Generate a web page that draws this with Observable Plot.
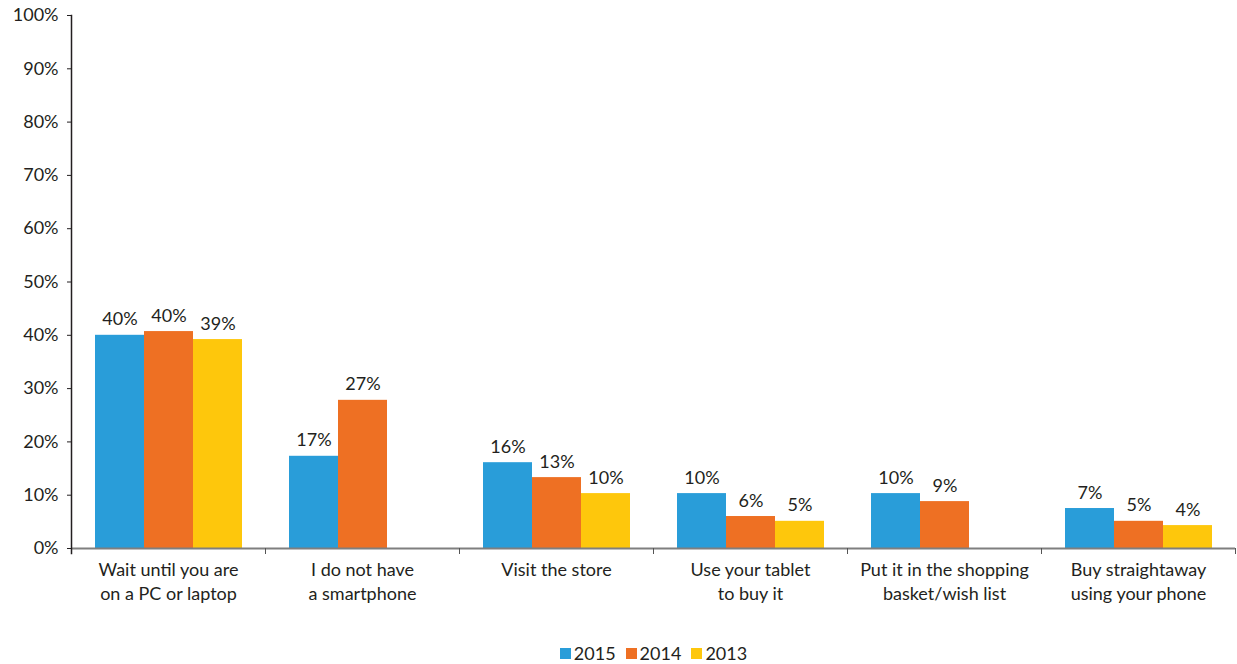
<!DOCTYPE html>
<html>
<head>
<meta charset="utf-8">
<script src="https://cdn.jsdelivr.net/npm/d3@7"></script>
<script src="https://cdn.jsdelivr.net/npm/@observablehq/plot@0.6"></script>
<style>
  html, body { margin: 0; padding: 0; background: #fff; }
  body { width: 1237px; height: 664px; overflow: hidden; font-family: Lato, "Noto Sans", sans-serif; color: #231f20; }
  #chart svg { display: block; }
  #legend { display: flex; justify-content: center; align-items: center; height: 20px; line-height: 20px; margin-top: 13px; font-size: 18px; gap: 10px; padding-left: 70px; }
  #legend .item { display: flex; align-items: center; }
  #legend .sw { width: 11px; height: 11px; margin-right: 3px; }
</style>
</head>
<body>
<div id="chart"></div>
<div id="legend"></div>
<script>
const categories = [
  "Wait until you are\non a PC or laptop",
  "I do not have\na smartphone",
  "Visit the store",
  "Use your tablet\nto buy it",
  "Put it in the shopping\nbasket/wish list",
  "Buy straightaway\nusing your phone"
];
const years = ["2015", "2014", "2013"];
const colors = ["#299dd9", "#ee7023", "#fec70c"];
const values2015 = [40.0, 17.3, 16.1, 10.3, 10.3, 7.5];
const values2014 = [40.7, 27.8, 13.3, 6.0, 8.8, 5.1];
const values2013 = [39.2, null, 10.3, 5.1, null, 4.3];
const labels2015 = ["40%", "17%", "16%", "10%", "10%", "7%"];
const labels2014 = ["40%", "27%", "13%", "6%", "9%", "5%"];
const labels2013 = ["39%", "", "10%", "5%", "", "4%"];
const yTicks = [0, 10, 20, 30, 40, 50, 60, 70, 80, 90, 100];

const series = [
  {year: "2015", values: values2015, labels: labels2015},
  {year: "2014", values: values2014, labels: labels2014},
  {year: "2013", values: values2013, labels: labels2013}
];
const rows = [];
categories.forEach((cat, i) => {
  series.forEach(s => {
    if (s.values[i] != null) rows.push({cat, year: s.year, value: s.values[i], label: s.labels[i]});
  });
});

const H = 630, MT = 15, MB = 82;
const inner = H - MT - MB;
const ink = "#231f20";
const font = "Lato, 'Noto Sans', sans-serif";

const chart = Plot.plot({
  width: 1237,
  height: H,
  marginLeft: 69,
  marginRight: 0,
  marginTop: MT,
  marginBottom: MB,
  style: {fontFamily: font, fontSize: "18px", color: ink, background: "#fff"},
  fx: {domain: categories, padding: 0, axis: null, label: null},
  x: {domain: years, paddingInner: 0, paddingOuter: 0.45, axis: null},
  y: {domain: [0, 100], axis: null},
  color: {domain: years, range: colors},
  marks: [
    Plot.barY(rows, {fx: "cat", x: "year", y: "value", fill: "year"}),
    Plot.text(rows, {fx: "cat", x: "year", y: "value", text: "label", lineAnchor: "bottom", dy: -10, fontSize: 18, fill: ink}),
    Plot.ruleY([0], {stroke: "#7f7f7f", strokeWidth: 2}),
    Plot.frame({anchor: "left", stroke: "#555", insetTop: inner, insetBottom: -5}),
    Plot.frame({anchor: "right", stroke: "#555", insetTop: inner, insetBottom: -5, facetAnchor: "right"}),
    Plot.frame({anchor: "left", stroke: ink, strokeWidth: 1.5, insetBottom: -5, facetAnchor: "left"}),
    Plot.axisY({ticks: yTicks, tickFormat: d => d + "%", tickSize: 4, tickPadding: 9, fontSize: 18, label: null, stroke: ink, fill: ink}),
    Plot.axisFx({anchor: "bottom", tickSize: 0, tickPadding: 10, fontSize: 18, lineHeight: 1.35, label: null, fill: ink})
  ]
});
document.getElementById("chart").appendChild(chart);

const legend = document.getElementById("legend");
years.forEach((y, i) => {
  const item = document.createElement("div");
  item.className = "item";
  const sw = document.createElement("span");
  sw.className = "sw";
  sw.style.background = colors[i];
  const t = document.createElement("span");
  t.textContent = y;
  item.appendChild(sw);
  item.appendChild(t);
  legend.appendChild(item);
});
</script>
</body>
</html>
